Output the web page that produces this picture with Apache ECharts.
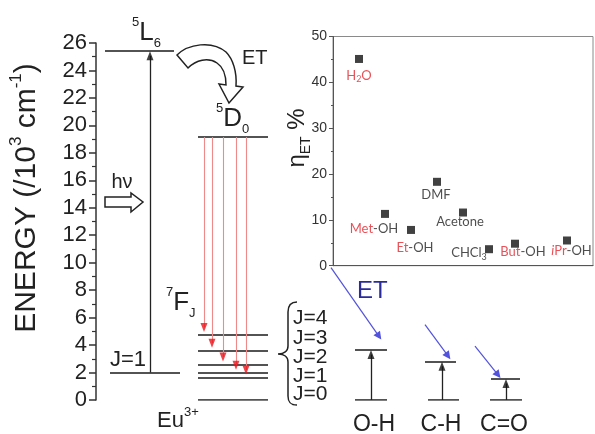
<!DOCTYPE html>
<html>
<head>
<meta charset="utf-8">
<script src="https://cdn.jsdelivr.net/npm/echarts@6/dist/echarts.min.js"></script>
<style>
  html, body { margin: 0; padding: 0; background: #fff; }
  #chart { width: 595px; height: 434px; }
</style>
</head>
<body>
<div id="chart"></div>
<script>
// ---- Energy levels (10^3 cm^-1) ----
const ligandExcited = 25.4;                            // 5L6
const ligandGround = 2.0;                              // J=1
const euEmitting = 19.15;                              // 5D0
const euTerminal = [4.75, 3.6, 2.6, 2.0, 1.65, 0.0];   // 7FJ manifold
const emissionTargets = [4.75, 3.6, 2.6, 2.0, 1.65];   // 5D0 -> 7FJ (J=4..0)
const jLabels = ['J=4', 'J=3', 'J=2', 'J=1', 'J=0'];
const oscillators = ['O-H', 'C-H', 'C=O'];
const oscillatorEnergy = [3.64, 2.79, 1.53];

// ---- ET efficiency per solvent (%) ----
const solvents = ['H2O', 'Met-OH', 'Et-OH', 'DMF', 'Acetone', 'CHCl3', 'But-OH', 'iPr-OH'];
const solventSlot = [1, 2, 3, 4, 5, 6, 7, 9];
const etEfficiency = [45.1, 11.3, 7.8, 18.3, 11.6, 3.6, 4.8, 5.5];

// ---- layout of the level diagram (x in main-grid units, 1 unit = 1 px) ----
const FONT = 'Liberation Sans, Arial, sans-serif';
const LIG_EXC = [9, 78], LIG_GND = [14, 84], LIG_ARROW_X = 54;
const EU_SPAN = [102, 172];
const EMIT_X = [108, 116, 127, 140, 150];
const VIB = [
  { top: [259, 291], bottom: [259, 291], arrow: 275, labelX: 374 },
  { top: [329, 360], bottom: [332, 363], arrow: 346, labelX: 441 },
  { top: [395, 424], bottom: [394, 426], arrow: 410, labelX: 504 }
];
// diagonal ET arrows towards the oscillators: [dxStart, dEStart, dxEnd, dEEnd] relative to each oscillator's arrow/top
const ET_ARROWS = [[-40, 6.0, 8, 1.0], [-17, 2.7, 6, 0.42], [-31, 2.4, -8, 0.3]];
const HEAD = 0.33;    // half height of an arrow head in energy units
const LABEL_OFFSETS = [[0, 17], [-11, 14.5], [4, 18], [-1, 12.5], [-3, 9], [-20, 4], [8, 8], [4.5, 10.5]];

const seg = (x, e) => ({ coords: [[x[0], e], [x[1], e]] });

const levelLines = [seg(LIG_EXC, ligandExcited), seg(LIG_GND, ligandGround), seg(EU_SPAN, euEmitting)]
  .concat(euTerminal.map(e => seg(EU_SPAN, e)))
  .concat(VIB.map((v, i) => seg(v.top, oscillatorEnergy[i])))
  .concat(VIB.map(v => seg(v.bottom, 0)));

const blackShafts = [{ coords: [[LIG_ARROW_X, ligandGround], [LIG_ARROW_X, ligandExcited - HEAD]] }]
  .concat(VIB.map((v, i) => ({ coords: [[v.arrow, 0], [v.arrow, oscillatorEnergy[i] - HEAD]] })));
const blackHeads = [[LIG_ARROW_X, ligandExcited - HEAD]]
  .concat(VIB.map((v, i) => [v.arrow, oscillatorEnergy[i] - HEAD]));

const redShafts = emissionTargets.map((e, i) => ({ coords: [[EMIT_X[i], euEmitting], [EMIT_X[i], e + 0.2 + HEAD]] }));
const redHeads = emissionTargets.map((e, i) => [EMIT_X[i], e + 0.2 + HEAD]);

const blueArrows = VIB.map((v, i) => {
  const a = ET_ARROWS[i], e = oscillatorEnergy[i];
  return { coords: [[v.arrow + a[0], e + a[1]], [v.arrow + a[2], e + a[3]]] };
});

// rich-text markup for the solvent labels
const solventMarkup = {
  'H2O': '{r|H}{rs|2}{r|O}',
  'Met-OH': '{r|Met}{k|-OH}',
  'Et-OH': '{r|Et}{k|-OH}',
  'DMF': '{k|DMF}',
  'Acetone': '{k|Acetone}',
  'CHCl3': '{k|CHCl}{ks|3}',
  'But-OH': '{r|But}{k|-OH}',
  'iPr-OH': '{ri|i}{r|Pr}{k|-OH}'
};
const RED = '#e3262e', INK = '#222';
const lab = { fontFamily: 'Lato, sans-serif', fontSize: 13, lineHeight: 16 };
const labelRich = {
  r: Object.assign({ color: RED }, lab),
  k: Object.assign({ color: INK }, lab),
  ri: Object.assign({ color: RED, fontStyle: 'italic' }, lab),
  rs: { color: RED, fontFamily: 'Lato, sans-serif', fontSize: 9, lineHeight: 9, verticalAlign: 'bottom' },
  ks: { color: INK, fontFamily: 'Lato, sans-serif', fontSize: 9, lineHeight: 9, verticalAlign: 'bottom' }
};

const scatterData = solvents.map((s, i) => ({
  value: [solventSlot[i], etEfficiency[i]],
  name: s,
  label: { offset: LABEL_OFFSETS[i] }
}));

// outline shapes: hollow excitation arrow, curved ET arrow, brace
const outlineShapes = [
  { d: 'M105,197 L131,197 L131,193 L143,202 L131,212 L131,207 L105,207 Z', fill: '#fff' },
  { d: 'M177,55 C188,44 212,40 226,52 C233,59 237,72 236,86 L243,87 L229,103 L219,84 L226,85 C226,75 223,67 217,63 C208,57 196,60 188,68 Z', fill: '#fff' },
  { d: 'M297,302 C290,302 288,306 288,312 L288,346 C288,351 284,354 278,354 C284,354 288,357 288,362 L288,396 C288,402 290,405 297,405', fill: 'none' }
];

// helpers for annotation text
const main = (size) => ({ fontSize: size, lineHeight: size + 8, fontFamily: FONT, color: INK });
const sup = (size) => ({ fontSize: size, lineHeight: size, verticalAlign: 'top', fontFamily: FONT, color: INK });
const sub = (size) => ({ fontSize: size, lineHeight: size, verticalAlign: 'bottom', fontFamily: FONT, color: INK });
function richText(x, y, text, big, small, rotation, align) {
  return {
    type: 'text', x: x, y: y, rotation: rotation || 0, silent: true,
    style: {
      text: text, align: align || 'left', verticalAlign: 'middle', fill: INK,
      rich: { m: main(big), p: sup(small), b: sub(small) }
    }
  };
}
function plainText(x, y, text, size, color, align) {
  return {
    type: 'text', x: x, y: y, silent: true,
    style: { text: text, fontSize: size, fontFamily: FONT, fill: color || INK,
             align: align || 'left', verticalAlign: 'middle' }
  };
}

const chart = echarts.init(document.getElementById('chart'), null, { renderer: 'canvas' });

chart.setOption({
  animation: false,
  backgroundColor: '#fff',
  textStyle: { fontFamily: FONT },
  grid: [
    { left: 96, top: 43, right: 0, bottom: 34 },
    { left: 333, top: 36.5, width: 260, height: 229.2, show: true, borderColor: '#8a8a8a', borderWidth: 1 }
  ],
  xAxis: [
    { gridIndex: 0, type: 'value', min: 0, max: 499, show: false },
    { gridIndex: 1, type: 'value', min: 0, max: 10,
      axisLine: { show: true, lineStyle: { color: '#555', width: 1 } },
      axisTick: { show: false }, axisLabel: { show: false }, splitLine: { show: false } }
  ],
  yAxis: [
    { gridIndex: 0, type: 'value', min: 0, max: 26, interval: 2,
      axisLine: { show: true, lineStyle: { color: '#333', width: 1.5 } },
      axisTick: { show: true, length: 7, lineStyle: { color: '#333', width: 1.5 } },
      minorTick: { show: true, splitNumber: 2, length: 4, lineStyle: { color: '#333', width: 1.2 } },
      axisLabel: { fontSize: 22, color: INK, margin: 9, fontFamily: FONT },
      splitLine: { show: false } },
    { gridIndex: 1, type: 'value', min: 0, max: 50, interval: 10,
      axisLine: { show: true, lineStyle: { color: '#555', width: 1 } },
      axisTick: { show: true, length: 4, lineStyle: { color: '#555' } },
      minorTick: { show: true, splitNumber: 2, length: 2, lineStyle: { color: '#555' } },
      axisLabel: { fontSize: 14, color: '#333', margin: 6, fontFamily: FONT },
      splitLine: { show: false } }
  ],
  series: [
    { name: 'outlines', type: 'custom', coordinateSystem: 'none', silent: true,
      data: outlineShapes.map((s, i) => [i]),
      renderItem: (params) => {
        const s = outlineShapes[params.dataIndex];
        return { type: 'path', shape: { pathData: s.d },
                 style: { fill: s.fill, stroke: '#222', lineWidth: 1.5 } };
      } },
    { name: 'levels', type: 'lines', coordinateSystem: 'cartesian2d', xAxisIndex: 0, yAxisIndex: 0,
      silent: true, lineStyle: { color: '#1a1a1a', width: 1.6, opacity: 1 }, data: levelLines },
    { name: 'absorption', type: 'lines', coordinateSystem: 'cartesian2d', xAxisIndex: 0, yAxisIndex: 0,
      silent: true, lineStyle: { color: '#222', width: 1.3, opacity: 1 }, data: blackShafts },
    { name: 'absorptionHeads', type: 'scatter', xAxisIndex: 0, yAxisIndex: 0, silent: true,
      symbol: 'triangle', symbolSize: [7, 9], itemStyle: { color: '#111' }, data: blackHeads },
    { name: 'emission', type: 'lines', coordinateSystem: 'cartesian2d', xAxisIndex: 0, yAxisIndex: 0,
      silent: true, lineStyle: { color: '#f08a8a', width: 1.1, opacity: 1 }, data: redShafts },
    { name: 'emissionHeads', type: 'scatter', xAxisIndex: 0, yAxisIndex: 0, silent: true,
      symbol: 'triangle', symbolRotate: 180, symbolSize: [7, 9], itemStyle: { color: '#e8141c' }, data: redHeads },
    { name: 'ET', type: 'lines', coordinateSystem: 'cartesian2d', xAxisIndex: 0, yAxisIndex: 0,
      silent: true, symbol: ['none', 'triangle'], symbolSize: 8,
      lineStyle: { color: '#5252dc', width: 1.2, opacity: 1 }, data: blueArrows },
    { name: 'etEfficiency', type: 'scatter', xAxisIndex: 1, yAxisIndex: 1,
      symbol: 'rect', symbolSize: 8, itemStyle: { color: '#111' },
      label: { show: true, position: 'inside', align: 'center', verticalAlign: 'middle',
               formatter: p => solventMarkup[p.name], rich: labelRich },
      data: scatterData }
  ],
  graphic: [
    // axis titles
    richText(27, 198, '{m|ENERGY (/10}{p|3}{m| cm}{p|-1}{m|)}', 30, 17, Math.PI / 2, 'center'),
    richText(297, 138, '{m|η}{b|ET}{m| %}', 24, 14, Math.PI / 2, 'center'),
    // term symbols
    richText(132, 33, '{p|5}{m|L}{b|6}', 26, 13),
    richText(216, 119, '{p|5}{m|D}{b|0}', 26, 13),
    richText(166, 303, '{p|7}{m|F}{b|J}', 26, 13),
    richText(157, 421, '{m|Eu}{p|3+}', 22, 13),
    plainText(110, 360, 'J=1', 22),
    plainText(122, 182, 'hν', 20, INK, 'center'),
    plainText(242, 58, 'ET', 20),
    plainText(357, 291, 'ET', 24, '#2b2b9c')
  ].concat(jLabels.map((t, i) => plainText(293, [318, 338, 357, 376, 394][i], t, 21)))
   .concat(oscillators.map((t, i) => plainText(VIB[i].labelX, 425, t, 23, INK, 'center')))
});
</script>
</body>
</html>
